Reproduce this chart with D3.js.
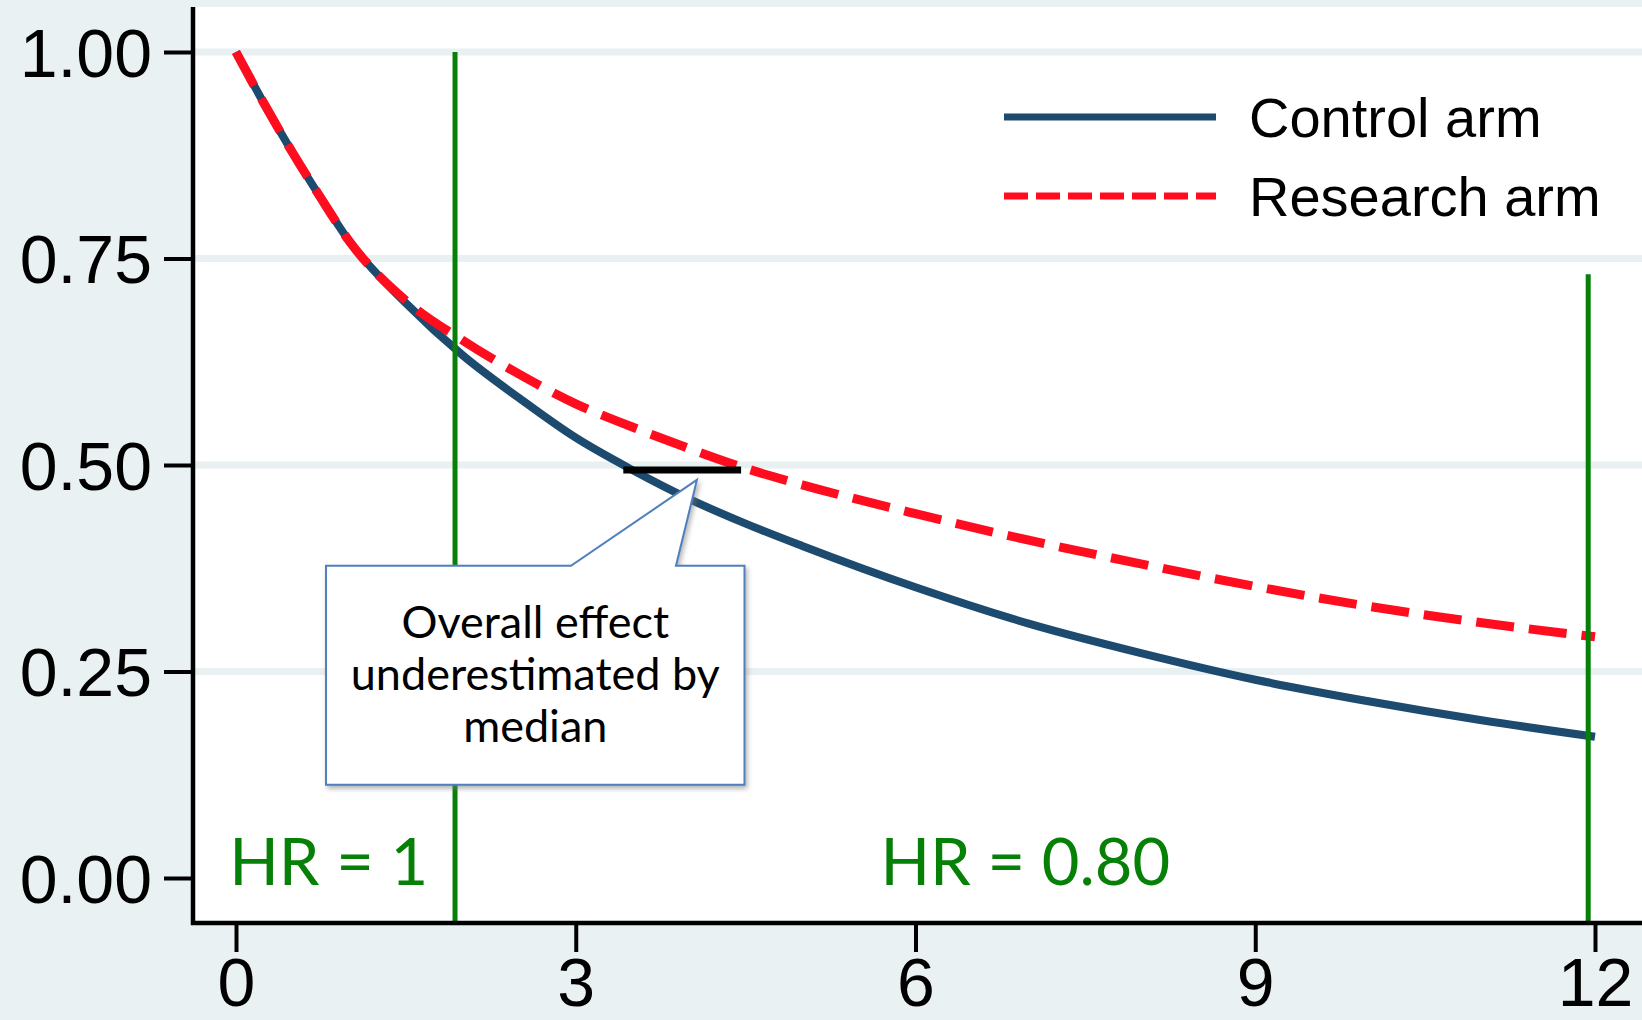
<!DOCTYPE html>
<html>
<head>
<meta charset="utf-8">
<script src="https://cdn.jsdelivr.net/npm/d3@7"></script>
<style>
  html, body { margin: 0; padding: 0; background: #e9f1f3; }
  svg { display: block; }
</style>
</head>
<body>
<svg id="chart" width="1642" height="1020"></svg>
<script>
// ---------------- data ----------------
const timePoints  = [0, 0.25, 0.5, 0.75, 1, 1.5, 2, 2.5, 3, 3.5, 4, 4.5, 5, 6, 7, 8, 9, 10, 11, 12];
const controlArm  = [1, 0.937, 0.878, 0.823, 0.771, 0.696, 0.633, 0.581, 0.533, 0.494, 0.459, 0.429, 0.402, 0.352, 0.308, 0.272, 0.240, 0.214, 0.191, 0.171];
const researchArm = [1, 0.937, 0.878, 0.823, 0.771, 0.699, 0.651, 0.610, 0.574, 0.546, 0.520, 0.496, 0.476, 0.441, 0.409, 0.380, 0.353, 0.329, 0.309, 0.292];
const seriesNames = ["Control arm", "Research arm"];
const xTicks = [0, 3, 6, 9, 12];
const yTicks = [0, 0.25, 0.5, 0.75, 1];
const yTickLabels = ["0.00", "0.25", "0.50", "0.75", "1.00"];
const gridValues = [0.25, 0.5, 0.75, 1];
// green reference lines: [time, top survival]
const refLines = [[1.934, 1.0], [11.94, 0.731]];
const hrLabels = [{text: "HR = 1", t: -0.06}, {text: "HR = 0.80", t: 5.69}];
// medians segment (control median -> research median)
const medianSegment = {t0: 3.42, t1: 4.46, s: 0.494};
const calloutLines = ["Overall effect", "underestimated by", "median"];

// ---------------- layout ----------------
const W = 1642, H = 1020;
const svg = d3.select("#chart");
const x = d3.scaleLinear().domain([0, 12]).range([236, 1595]);
const y = d3.scaleLinear().domain([0, 1]).range([878, 52]);
const axisX = 193, axisY = 923, plotTop = 7;

const C_NAVY = "#1d4a6f", C_RED = "#ff0d1f", C_GREEN = "#078007";

// background + plot region
svg.append("rect").attr("width", W).attr("height", H).attr("fill", "#e9f1f3");
svg.append("rect").attr("x", axisX).attr("y", plotTop).attr("width", W - axisX).attr("height", axisY - plotTop).attr("fill", "#ffffff");

// gridlines
svg.append("g").selectAll("line").data(gridValues).join("line")
  .attr("x1", axisX).attr("x2", W)
  .attr("y1", d => y(d)).attr("y2", d => y(d))
  .attr("stroke", "#e8f0f2").attr("stroke-width", 7);

// defs
const defs = svg.append("defs");
const f = defs.append("filter").attr("id", "shadow").attr("x", "-10%").attr("y", "-10%").attr("width", "130%").attr("height", "130%");
f.append("feDropShadow").attr("dx", 2).attr("dy", 3).attr("stdDeviation", 2.5)
  .attr("flood-color", "#777").attr("flood-opacity", 0.55);

// curves
const pts = arr => timePoints.map((t, i) => [t, arr[i]]);
const line = d3.line().x(d => x(d[0])).y(d => y(d[1])).curve(d3.curveMonotoneX);

svg.append("path").datum(pts(controlArm)).attr("d", line)
  .attr("fill", "none").attr("stroke", C_NAVY).attr("stroke-width", 8);
svg.append("path").datum(pts(researchArm)).attr("d", line)
  .attr("fill", "none").attr("stroke", C_RED).attr("stroke-width", 9)
  .attr("stroke-dasharray", "38,15");

// green reference lines
svg.append("g").selectAll("line").data(refLines).join("line")
  .attr("x1", d => x(d[0])).attr("x2", d => x(d[0]))
  .attr("y1", d => y(d[1])).attr("y2", axisY)
  .attr("stroke", C_GREEN).attr("stroke-width", 5);

// axes
const yAxis = d3.axisLeft(y).tickValues(yTicks).tickFormat((d, i) => yTickLabels[i]).tickSize(29).tickPadding(12);
const gy = svg.append("g").attr("transform", `translate(${axisX},0)`).call(yAxis);
gy.select(".domain").remove();
gy.selectAll(".tick line").attr("stroke", "#000").attr("stroke-width", 4);
gy.selectAll(".tick text").attr("font-family", "'Liberation Sans', Arial, sans-serif")
  .attr("font-size", 68).attr("fill", "#000").attr("dy", "0.36em");

const xAxis = d3.axisBottom(x).tickValues(xTicks).tickFormat(d3.format("d")).tickSize(29).tickPadding(6);
const gx = svg.append("g").attr("transform", `translate(0,${axisY})`).call(xAxis);
gx.select(".domain").remove();
gx.selectAll(".tick line").attr("stroke", "#000").attr("stroke-width", 4);
gx.selectAll(".tick text").attr("font-family", "'Liberation Sans', Arial, sans-serif")
  .attr("font-size", 68).attr("fill", "#000").attr("dy", "0.71em");

svg.append("line").attr("x1", axisX).attr("x2", axisX).attr("y1", plotTop).attr("y2", axisY + 2)
  .attr("stroke", "#000").attr("stroke-width", 4.5);
svg.append("line").attr("x1", axisX - 2).attr("x2", W).attr("y1", axisY).attr("y2", axisY)
  .attr("stroke", "#000").attr("stroke-width", 4.5);

// legend
const legend = svg.append("g");
const legendRows = [{name: seriesNames[0], color: C_NAVY, dash: null, yy: 117},
                    {name: seriesNames[1], color: C_RED, dash: "24,8", yy: 196}];
legendRows.forEach(r => {
  legend.append("line").attr("x1", 1004).attr("x2", 1216).attr("y1", r.yy).attr("y2", r.yy)
    .attr("stroke", r.color).attr("stroke-width", 7).attr("stroke-dasharray", r.dash);
  legend.append("text").attr("x", 1249).attr("y", r.yy + 20).text(r.name)
    .attr("font-family", "'Liberation Sans', Arial, sans-serif").attr("font-size", 56).attr("fill", "#000");
});

// median segment
svg.append("line")
  .attr("x1", x(medianSegment.t0)).attr("x2", x(medianSegment.t1))
  .attr("y1", y(medianSegment.s)).attr("y2", y(medianSegment.s))
  .attr("stroke", "#000").attr("stroke-width", 7);

// callout (positions in data units)
const box = {t0: 0.795, t1: 4.49, s0: 0.378, s1: 0.113, pL: 2.958, pR: 3.885, apexT: 4.07, apexS: 0.482};
const bx0 = x(box.t0), bx1 = x(box.t1), by0 = y(box.s0), by1 = y(box.s1);
const cp = d3.path();
cp.moveTo(bx0, by0);
cp.lineTo(x(box.pL), by0);
cp.lineTo(x(box.apexT), y(box.apexS));
cp.lineTo(x(box.pR), by0);
cp.lineTo(bx1, by0);
cp.lineTo(bx1, by1);
cp.lineTo(bx0, by1);
cp.closePath();
svg.append("path").attr("d", cp.toString()).attr("fill", "#fff")
  .attr("stroke", "#4f7fbf").attr("stroke-width", 2).attr("filter", "url(#shadow)");

const cx = (bx0 + bx1) / 2;
svg.append("g").selectAll("text").data(calloutLines).join("text")
  .attr("x", cx).attr("y", (d, i) => by0 + 72 + i * 52)
  .attr("text-anchor", "middle")
  .attr("font-family", "Lato, 'Open Sans', sans-serif").attr("font-size", 45).attr("fill", "#000")
  .text(d => d);

// HR labels
svg.append("g").selectAll("text").data(hrLabels).join("text")
  .attr("x", d => x(d.t)).attr("y", 885)
  .attr("font-family", "Lato, 'Open Sans', sans-serif").attr("font-size", 65).attr("fill", C_GREEN)
  .text(d => d.text);
</script>
</body>
</html>
